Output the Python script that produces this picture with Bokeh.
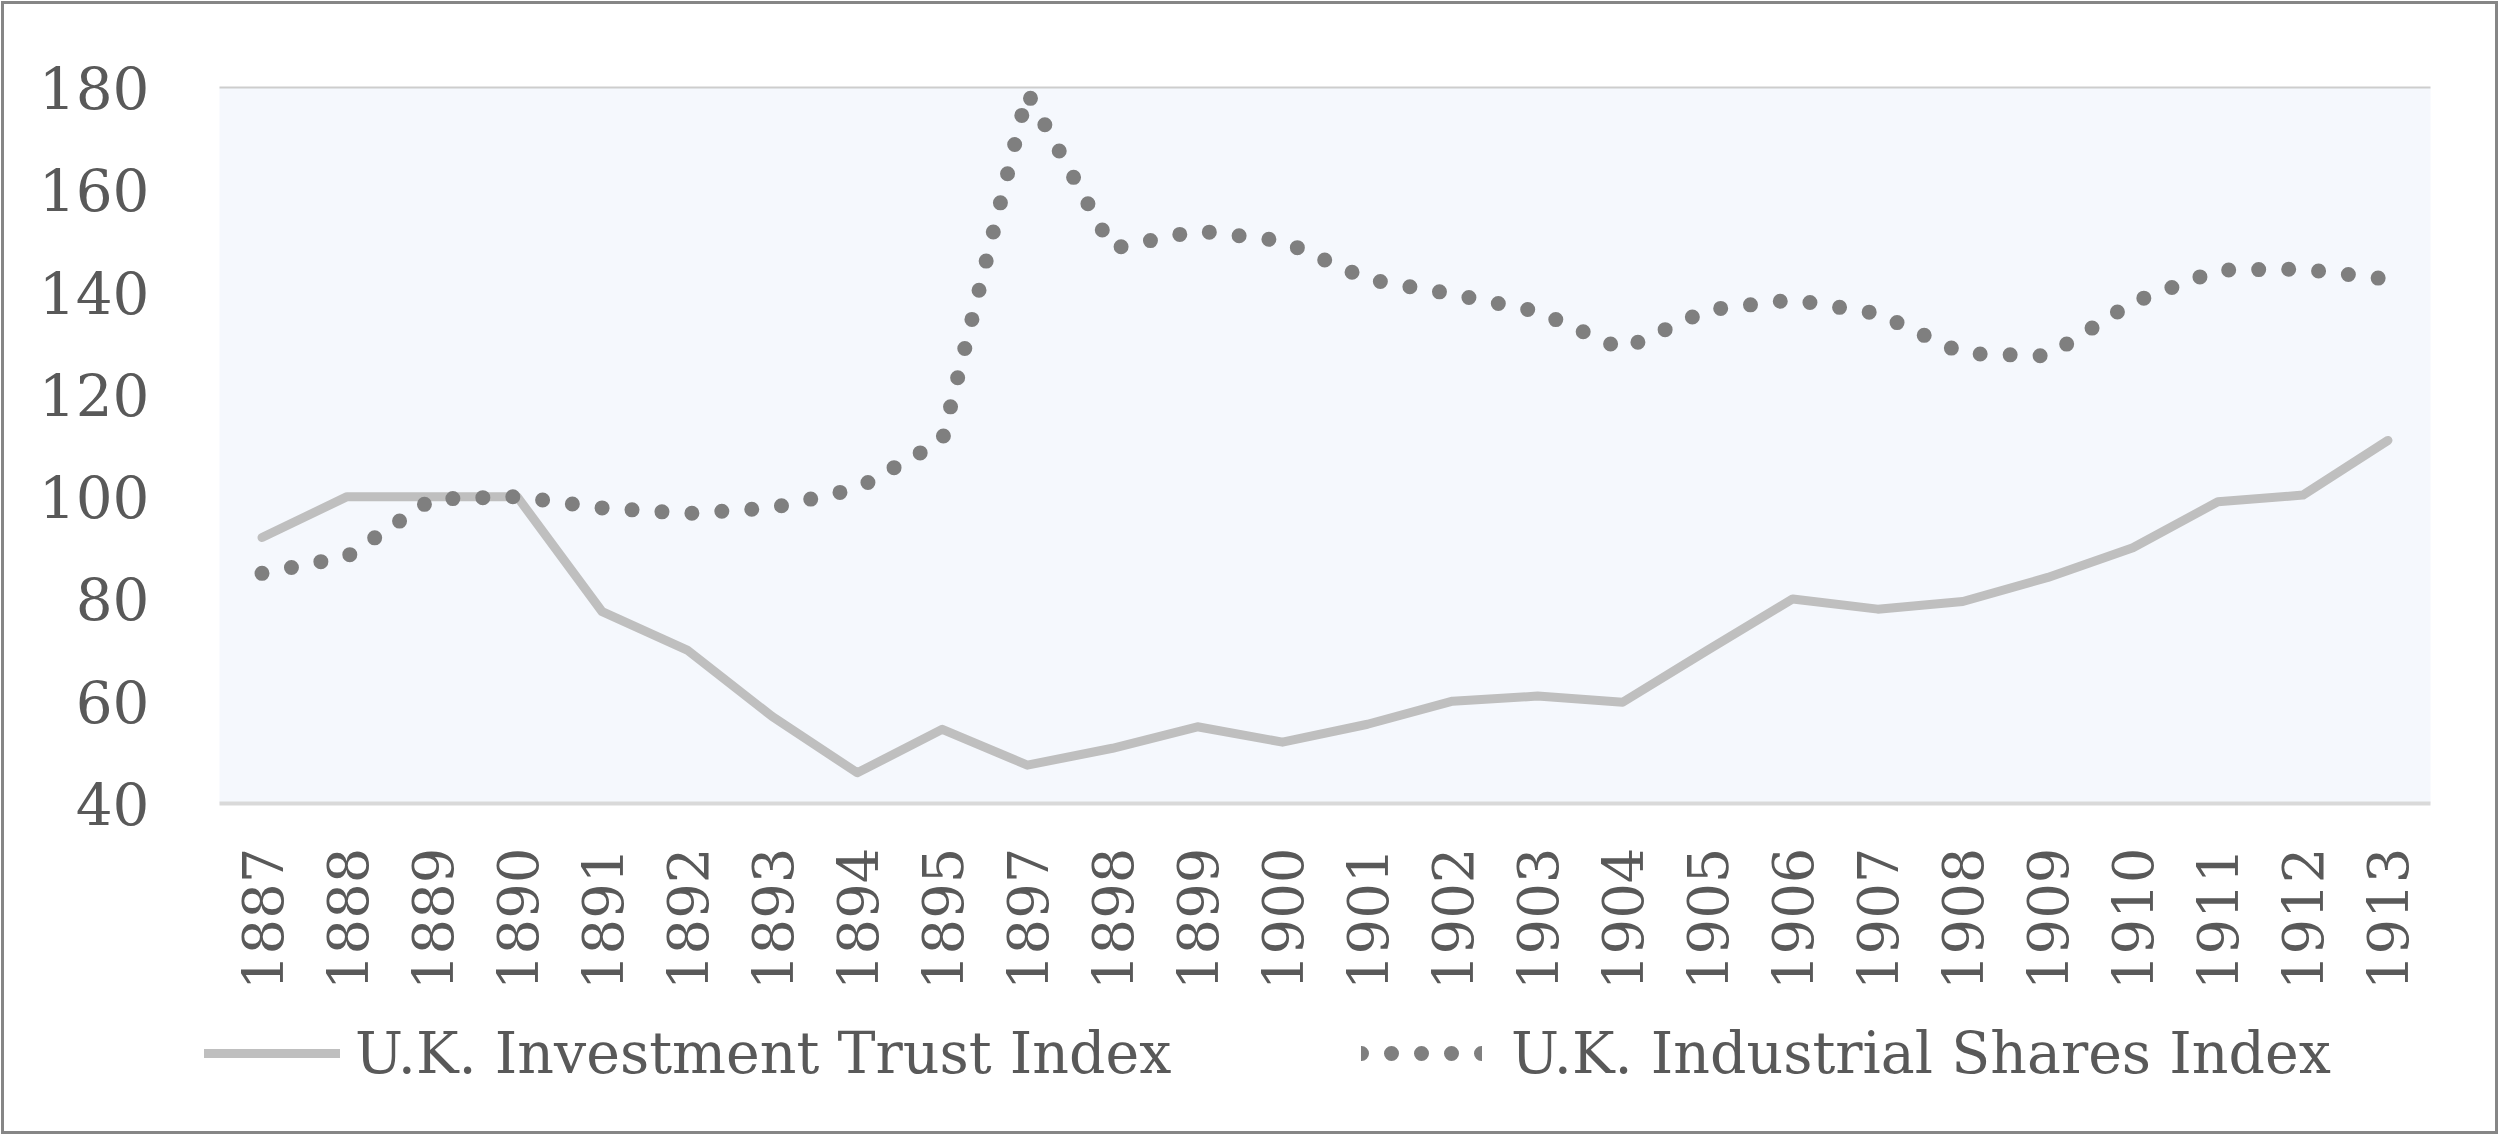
from bokeh.plotting import figure
from bokeh.layouts import column
from bokeh.models import (FactorRange, Range1d, FixedTicker, Legend, LegendItem,
                          ColumnDataSource, CategoricalAxis, InlineStyleSheet)
from bokeh.embed import file_html
from bokeh.resources import INLINE
import math

years = ["1887", "1888", "1889", "1890", "1891", "1892", "1893", "1894", "1895",
         "1897", "1898", "1899", "1900", "1901", "1902", "1903", "1904", "1905",
         "1906", "1907", "1908", "1909", "1910", "1911", "1912", "1913"]
trust_index = [92, 100, 100, 100, 77.5, 70, 57, 46, 54.5,
               47.5, 50.8, 55, 52, 55.5, 60, 61, 59.8, 70,
               80, 78, 79.5, 84.2, 90, 99, 100.3, 111]
industrial_index = [85, 88.3, 99.5, 100, 97.8, 96.7, 97.8, 101.6, 111,
                    179, 148.5, 152, 150, 142.5, 139.6, 136.2, 128.8, 136.5,
                    138.5, 135.8, 128, 127.5, 138, 144.3, 144.5, 142.5]
y_ticks = [40, 60, 80, 100, 120, 140, 160, 180]
series_names = ["U.K. Investment Trust Index", "U.K. Industrial Shares Index"]

FONT = "DejaVu Serif"
TXT = "#595959"
TRUST_STYLE = dict(line_color="#BFBFBF", line_width=9, line_cap="round", line_join="round")
IND_STYLE = dict(line_color="#7F7F7F", line_width=15, line_cap="round", line_join="round",
                 line_dash="0 30")

W = 2500
H_MAIN = 1000
H_LEG = 135

src = ColumnDataSource(dict(year=years, trust=trust_index, ind=industrial_index))

p = figure(width=W, height=H_MAIN, output_backend="svg", toolbar_location=None,
           x_range=FactorRange(factors=years, range_padding=0),
           y_range=Range1d(40, 180),
           min_border_left=219, min_border_right=W - 2430, min_border_top=87,
           min_border_bottom=H_MAIN - 803)
p.frame_align = False

p.background_fill_color = "#F5F8FD"
p.border_fill_color = "white"
p.outline_line_color = None
p.xgrid.grid_line_color = None
p.ygrid.grid_line_color = None

xax = p.below[0]
xax.axis_line_color = "#D9D9D9"
xax.axis_line_width = 4
xax.major_tick_line_color = None
xax.minor_tick_line_color = None
xax.major_label_orientation = math.pi / 2
xax.major_label_standoff = 38
xax.major_label_text_font = FONT
xax.major_label_text_font_size = "56px"
xax.major_label_text_color = TXT

yax = p.left[0]
yax.ticker = FixedTicker(ticks=y_ticks)
yax.axis_line_color = None
yax.major_tick_line_color = None
yax.minor_tick_line_color = None
yax.major_label_standoff = 64
yax.major_label_text_font = FONT
yax.major_label_text_font_size = "58px"
yax.major_label_text_color = TXT

# thin light line along the top of the plot area (value 180)
top_axis = CategoricalAxis(axis_line_color="#CDCDCD", axis_line_width=2,
                           major_tick_line_color=None, minor_tick_line_color=None,
                           major_label_text_font_size="0px", major_label_text_alpha=0)
p.add_layout(top_axis, "above")

p.line("year", "trust", source=src, **TRUST_STYLE)
p.line("year", "ind", source=src, **IND_STYLE)

# legend strip below the chart
pl = figure(width=W, height=H_LEG, output_backend="svg", toolbar_location=None,
            x_range=Range1d(0, 1), y_range=Range1d(0, 1),
            x_axis_location=None, y_axis_location=None,
            min_border_left=0, min_border_right=0, min_border_top=0, min_border_bottom=0)
pl.frame_align = False
pl.outline_line_color = None
pl.background_fill_color = "white"
pl.border_fill_color = "white"
pl.xgrid.grid_line_color = None
pl.ygrid.grid_line_color = None
# legend key renderers: their data lie outside the visible range
dummy = ColumnDataSource(dict(x=[5, 6], y=[5, 5]))
g1 = pl.line("x", "y", source=dummy, **TRUST_STYLE)
g2 = pl.line("x", "y", source=dummy, **IND_STYLE)

common = dict(orientation="horizontal", padding=0, margin=0, border_line_color=None,
              background_fill_alpha=0, label_text_font=FONT, label_text_font_size="57px",
              label_text_color=TXT, glyph_height=40, label_height=40, spacing=0)
leg1 = Legend(items=[LegendItem(label=series_names[0], renderers=[g1])],
              location=(204, 49), glyph_width=136, label_standoff=15, **common)
leg2 = Legend(items=[LegendItem(label=series_names[1], renderers=[g2])],
              location=(1361, 49), glyph_width=121, label_standoff=29, **common)
pl.add_layout(leg1)
pl.add_layout(leg2)

layout = column(p, pl, spacing=0)
layout.stylesheets = [InlineStyleSheet(css="""
:host { position: relative; }
:host::after {
  content: "";
  position: absolute;
  left: 1px; top: 1px; right: 2px; bottom: 1px;
  border: 3px solid #868686;
  box-sizing: border-box;
  pointer-events: none;
  z-index: 100;
}
""")]

open("out.html", "w").write(file_html(layout, INLINE))
